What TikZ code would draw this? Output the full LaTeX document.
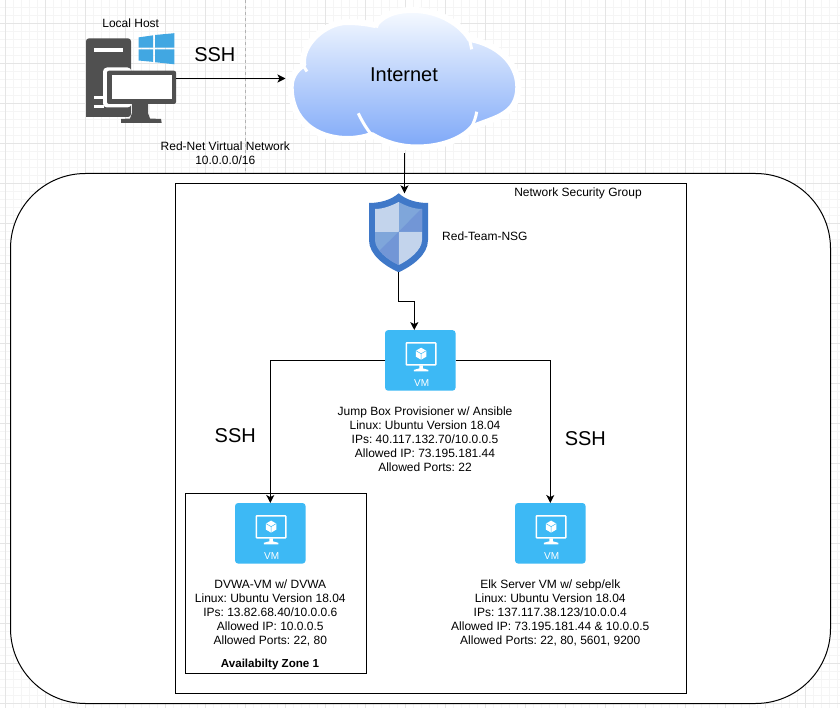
\documentclass[tikz,border=0pt]{standalone}
\usepackage{fontspec}
\setmainfont{Liberation Sans}
\usepackage{tikz}
\usetikzlibrary{shapes, arrows.meta, positioning, calc}
\usepackage{xcolor}
\frenchspacing

\definecolor{vmblue}{HTML}{3DB9F5}
\definecolor{hostgray}{HTML}{505050}
\definecolor{winblue}{HTML}{41A7E2}
\definecolor{shieldblue}{HTML}{3F78C8}
\definecolor{shieldlight}{HTML}{C3D4EC}
\definecolor{shieldmid}{HTML}{7FA6DA}
\definecolor{shielddark}{HTML}{7296D6}
\definecolor{cloudtop}{HTML}{F6FAFF}
\definecolor{cloudbottom}{HTML}{7EA8F8}

\begin{document}
\begin{tikzpicture}[
        x=1pt, y=-1pt,
        gridminor/.style={draw=black!4, line width=1pt},
        gridmajor/.style={draw=black!10, line width=1pt},
        guideline/.style={draw=black!30, dashed, line width=1pt},
        region/.style={rectangle, draw=black, line width=1pt, inner sep=0pt, outer sep=0pt},
        ghost/.style={rectangle, inner sep=0pt, outer sep=0pt},
        vmbox/.style={rectangle, fill=vmblue, rounded corners=3pt, minimum width=70.5pt, minimum height=60.5pt, inner sep=0pt, outer sep=0pt},
        link/.style={-{Stealth[length=8pt, width=8pt, inset=2pt]}, line width=1pt},
        labeltext/.style={font=\fontsize{12}{14}\selectfont, align=center, inner sep=0pt},
        sshtext/.style={font=\fontsize{20}{24}\selectfont, inner sep=0pt},
        vmglyph/.pic={
            \draw[white, line width=1.4pt, rounded corners=0.5pt] (-14,-17.5) rectangle (15.5,4.5);
            \fill[white] (-1,5) -- (2.5,5) -- (2.5,8) -- (8,9.5) -- (8,11) -- (-6.5,11) -- (-6.5,9.5) -- (-1,8) -- cycle;
            \fill[white] (0.8,-12.7) -- (6,-9.7) -- (6,-3.7) -- (0.8,-0.7) -- (-4.4,-3.7) -- (-4.4,-9.7) -- cycle;
            \draw[vmblue, line width=0.5pt] (-4.4,-9.7) -- (0.8,-6.7) -- (6,-9.7) (0.8,-6.7) -- (0.8,-0.7);
            \node[font=\fontsize{10}{12}\selectfont, text=white, inner sep=0pt] (-name) at (1.3,22.3) {VM};
        }
    ]
    \useasboundingbox (0,0) rectangle (840,708);
    \fill[white] (0,0) rectangle (840,708);

    % Grid paper
    \foreach \x in {5.5,13.5,...,840} {\draw[gridminor] (\x,0) -- (\x,708);}
    \foreach \y in {7.5,15.5,...,708} {\draw[gridminor] (0,\y) -- (840,\y);}
    \foreach \x in {5.5,45.5,...,840} {\draw[gridmajor] (\x,0) -- (\x,708);}
    \foreach \y in {23.5,63.5,...,708} {\draw[gridmajor] (0,\y) -- (840,\y);}

    % Regions
    \coordinate (guidetop) at (245.5,0);
    \node[region, fill=white, rounded corners=75pt, minimum width=820pt, minimum height=530pt] (virtualnet) at (420.5,438.5) {};
    \draw[guideline] (guidetop) -- (guidetop |- virtualnet.north);
    \node[region, fill=white, minimum width=510.5pt, minimum height=509.5pt] (nsgbox) at (430.75,438.25) {};
    \node[region, fill=white, minimum width=180.5pt, minimum height=179.5pt] (zonebox) at (275.75,583.25) {};

    % Cloud
    \node[ghost, minimum width=238pt, minimum height=143.5pt] (internet) at (404.5,81.5) {};
    \path[draw=white, line width=6pt, line join=round, top color=cloudtop, bottom color=cloudbottom, shading angle=0]
        (303.3,65) .. controls (300,45) and (325,22) .. (347,22)
        .. controls (357,22) and (366,23) .. (375,25)
        .. controls (385,12) and (400,10) .. (413,10)
        .. controls (440,10) and (462,25) .. (470,39)
        .. controls (497,44) and (518,62) .. (518.3,87)
        .. controls (518,115) and (495,118) .. (473,127)
        .. controls (462,140) and (440,147.5) .. (417,147.5)
        .. controls (400,147.5) and (385,143) .. (371.7,135)
        .. controls (362,138) and (355,139) .. (348,139)
        .. controls (315,139) and (290.7,120) .. (290.7,87)
        .. controls (290.7,78) and (295,70) .. (303.3,65) -- cycle;
    \draw[white, line width=3pt] (301.5,63) -- (307,71.5);
    \draw[white, line width=3pt] (361,22) .. controls (367,23) and (373,24.5) .. (378.3,26.7);
    \draw[white, line width=3pt] (469,37) -- (471.7,49.3);
    \draw[white, line width=3pt] (476.7,111.7) .. controls (476,117) and (474,122) .. (471.7,126.7);
    \draw[white, line width=3pt] (358.3,113.3) .. controls (362,121) and (366,128) .. (371.7,135);
    \node[sshtext] (internetlabel) at (404,74.5) {Internet};

    % Local host icon
    \node[ghost, minimum width=90pt, minimum height=91pt] (localhost) at (131,78.5) {};
    \fill[hostgray, rounded corners=3pt] (86,117) -- (86,38.3) -- (131,38.3) -- (131,80) -- (131,117) [sharp corners] -- cycle;
    \fill[white] (94,48.3) rectangle (123,51.7);
    \fill[white, rounded corners=4pt] (103,67.5) rectangle (131.5,107.5);
    \fill[white] (94,95.7) rectangle (104,99);
    \fill[white] (94,105) rectangle (104,108.5);
    \fill[hostgray, rounded corners=2pt] (107,70.7) rectangle (176,104);
    \fill[white] (111.7,75) rectangle (171.7,99.3);
    \fill[hostgray] (132,103) -- (148,103) -- (148,113) -- (150,118.5) -- (161,119) -- (161.7,123) -- (121,123) -- (121,119) -- (130,118.5) -- (132,113) -- cycle;
    \fill[winblue] (138.5,37.4) -- (153.2,35.3) -- (153.2,47.6) -- (138.5,47.6) -- cycle;
    \fill[winblue] (155,35) -- (174.3,33.2) -- (174.3,47.6) -- (155,47.6) -- cycle;
    \fill[winblue] (138.5,49.4) -- (153.2,49.4) -- (153.2,61.9) -- (138.5,60.5) -- cycle;
    \fill[winblue] (155,49.4) -- (174.3,49.4) -- (174.3,64.3) -- (155,62.2) -- cycle;

    % Shield
    \node[ghost, minimum width=59pt, minimum height=79pt] (nsg) at (398.5,232.8) {};
    \fill[shieldblue] (398.7,193.3) .. controls (391,200) and (380,203) .. (369,203) -- (369,240)
        .. controls (369,255) and (385,266) .. (398.7,272.3)
        .. controls (412,266) and (428,255) .. (428,240) -- (428,203)
        .. controls (417,203) and (406,200) .. (398.7,193.3) -- cycle;
    \begin{scope}
        \clip (398.7,202) .. controls (391,206) and (383,209) .. (375,209) -- (375,240)
            .. controls (375,250) and (388,260) .. (398.7,265)
            .. controls (409,260) and (422,250) .. (422,240) -- (422,209)
            .. controls (414,209) and (406,206) .. (398.7,202) -- cycle;
        \fill[shieldlight] (370,200) rectangle (398.7,231.7);
        \fill[shieldmid] (398.7,200) rectangle (425,231.7);
        \fill[shielddark] (398.7,231.7) -- (425,231.7) -- (425,205) -- cycle;
        \fill[shieldmid] (370,231.7) rectangle (398.7,268);
        \fill[shielddark] (398.7,231.7) -- (372,258) -- (398.7,268) -- cycle;
        \fill[shieldlight] (398.7,231.7) rectangle (425,268);
    \end{scope}

    % Nodes
    \node[vmbox] (jump) at (420.3,360.4) {};
    \node[vmbox] (dvwa) at (270.3,533.3) {};
    \node[vmbox] (elk) at (550.3,533.3) {};
    \pic (jumpicon) at (jump) {vmglyph};
    \pic (dvwaicon) at (dvwa) {vmglyph};
    \pic (elkicon) at (elk) {vmglyph};

    \node[labeltext, below=15.5pt of jump, xshift=4.7pt] (jumptext) {Jump Box Provisioner w/ Ansible\\Linux: Ubuntu Version 18.04\\IPs: 40.117.132.70/10.0.0.5\\Allowed IP: 73.195.181.44\\Allowed Ports: 22};
    \node[labeltext, below=16.5pt of dvwa] (dvwatext) {DVWA-VM w/ DVWA\\Linux: Ubuntu Version 18.04\\IPs: 13.82.68.40/10.0.0.6\\Allowed IP: 10.0.0.5\\Allowed Ports: 22, 80};
    \node[labeltext, below=16.5pt of elk] (elktext) {Elk Server VM w/ sebp/elk\\Linux: Ubuntu Version 18.04\\IPs: 137.117.38.123/10.0.0.4\\Allowed IP: 73.195.181.44 \& 10.0.0.5\\Allowed Ports: 22, 80, 5601, 9200};
    \node[labeltext, font=\fontsize{11.6}{14}\selectfont\bfseries] (zonetext) at (270,664) {Availabilty Zone 1};
    \node[labeltext] (hosttext) at (130.7,23.5) {Local Host};
    \node[labeltext] (nettext) at (225.3,153.3) {Red-Net Virtual Network\\10.0.0.0/16};
    \node[labeltext] (nsgboxtext) at (578,193.5) {Network Security Group};
    \node[labeltext, right=14pt of nsg, yshift=-3.9pt] (nsgtext) {Red-Team-NSG};

    % Edges
    \coordinate (jumpin) at (414.3,330.1);
    \draw[link] (localhost.east) -- node[sshtext, pos=0.355, above=16pt] (sshhost) {SSH} (localhost.east -| internet.west);
    \draw[link] (internet.south) -- (internet.south |- nsg.north);
    \draw[link] (nsg.south) |- ($(nsg.south)!0.5!(jumpin)$) -| (jumpin);
    \draw[link] (jump.west) -| node[sshtext, pos=0.762, left=14pt] (sshdvwa) {SSH} (dvwa.north);
    \draw[link] (jump.east) -| node[sshtext, pos=0.773, right=14pt] (sshelk) {SSH} (elk.north);

\end{tikzpicture}
\end{document}
